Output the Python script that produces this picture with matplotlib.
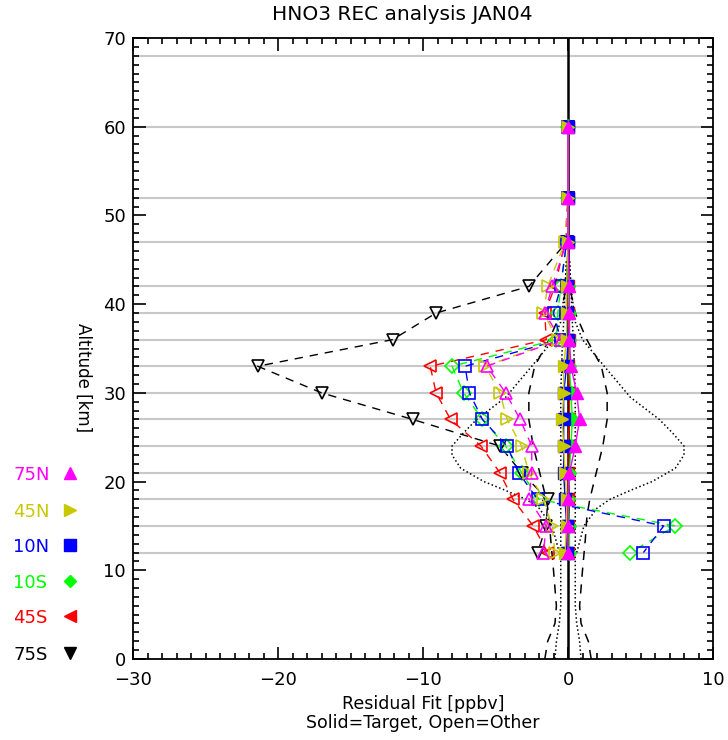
import numpy as np
import matplotlib
matplotlib.use("Agg")
import matplotlib.pyplot as plt
from matplotlib.lines import Line2D

# retrieval levels [km]
levels = [60, 52, 47, 42, 39, 36, 33, 30, 27, 24, 21, 18, 15, 12]
grid_levels = [68, 60, 52, 47, 42, 39, 36, 33, 30, 27, 24, 21, 18, 15, 12]

bands = ["75N", "45N", "10N", "10S", "45S", "75S"]
colors = ["#ff00ff", "#c8c800", "#0000ff", "#00ff00", "#ff0000", "#000000"]
marks = ["^", ">", "s", "D", "<", "v"]

# residuals for the target band (solid symbols)
target = {
    "75N": [0.0, 0.0, 0.0, 0.1, 0.1, 0.1, 0.2, 0.6, 0.8, 0.5, 0.1, 0.0, 0.0, 0.0],
    "45N": [0.0, 0.0, 0.0, -0.1, -0.1, -0.1, -0.3, -0.3, -0.4, -0.3, -0.2, -0.1, -0.1, -0.2],
    "10N": [0.0, 0.0, 0.0, -0.1, -0.1, 0.0, -0.1, -0.3, -0.3, -0.3, -0.3, -0.2, -0.1, -0.1],
    "10S": [0.0, 0.0, 0.0, 0.0, 0.1, 0.1, 0.1, 0.2, 0.3, 0.2, 0.1, 0.0, 0.1, 0.1],
    "45S": [0.0, 0.0, 0.0, 0.0, 0.0, 0.1, 0.0, 0.1, 0.1, 0.0, 0.0, 0.0, 0.0, 0.0],
    "75S": [0.0, 0.0, 0.0, 0.0, 0.0, 0.0, 0.0, 0.0, 0.0, 0.0, 0.0, 0.0, 0.0, 0.0],
}

# residuals for the other bands (open symbols)
other = {
    "75N": [0.0, 0.0, -0.1, -1.1, -1.6, -0.5, -5.6, -4.3, -3.3, -2.5, -2.5, -2.7, -1.5, -1.7],
    "45N": [0.0, 0.0, -0.2, -1.4, -1.7, -0.7, -5.7, -4.7, -4.2, -3.2, -2.7, -1.7, -1.1, -0.9],
    "10N": [0.0, 0.0, -0.1, -0.5, -1.0, -0.5, -7.1, -6.8, -5.9, -4.2, -3.4, -2.1, 6.6, 5.2],
    "10S": [0.0, 0.0, -0.1, -0.5, -0.7, -0.8, -8.0, -7.2, -5.9, -4.3, -3.2, -2.0, 7.4, 4.3],
    "45S": [0.0, 0.0, -0.2, -0.9, -1.6, -1.5, -9.5, -9.1, -8.1, -6.0, -4.7, -3.8, -2.4, -1.4],
    "75S": [0.0, 0.0, -0.1, -2.7, -9.1, -12.1, -21.4, -17.0, -10.7, -4.7, -3.2, -1.4, -1.5, -2.1],
}

# error envelopes, drawn as +/- profiles
wide_alt = [12, 15, 17, 18, 19, 20, 21.5, 23, 24, 25.5, 27, 29.5, 33, 36, 38, 42, 45]
wide_err = [0.6, 1.1, 2.0, 2.9, 4.3, 5.8, 7.4, 8.0, 8.0, 7.2, 6.3, 4.3, 2.5, 1.0, 0.5, 0.2, 0.1]
narrow_alt = [0, 2, 4, 6, 8, 10, 15, 20, 25, 30, 35, 38, 42, 45]
narrow_err = [0.9, 0.8, 0.6, 0.5, 0.5, 0.5, 0.5, 0.5, 0.5, 0.5, 0.4, 0.3, 0.2, 0.1]
dash_alt = [0, 2, 4, 6, 10, 13.6, 16, 18, 20, 22, 24, 27, 30, 33, 36, 39, 42]
dash_err = [1.6, 1.4, 0.9, 0.8, 1.0, 1.2, 1.3, 1.5, 1.8, 2.1, 2.4, 2.7, 2.7, 2.3, 1.3, 0.5, 0.1]

fig = plt.figure(figsize=(7.28, 7.40), dpi=100)
ax = fig.add_axes([0.1827, 0.1095, 0.7967, 0.8391])

for g in grid_levels:
    ax.axhline(g, color="#c8c8c8", lw=1.5, zorder=0)

for alt, err, ls in [(wide_alt, wide_err, ":"), (narrow_alt, narrow_err, ":"),
                     (dash_alt, dash_err, (0, (6, 5)))]:
    e = np.array(err)
    ax.plot(e, alt, color="black", ls=ls, lw=1.1, zorder=1)
    ax.plot(-e, alt, color="black", ls=ls, lw=1.1, zorder=1)

ax.plot([0, 0], [0, 70], color="black", lw=1.8, zorder=2)

# open symbols first, then the solid ones on top
for b, c, m in reversed(list(zip(bands, colors, marks))):
    ax.plot(other[b], levels, color=c, ls=(0, (6, 5)), lw=1.0, marker=m,
            ms=9 if m != "D" else 7, mfc="none", mec=c, mew=1.2, zorder=3)
for b, c, m in reversed(list(zip(bands, colors, marks))):
    ax.plot(target[b], levels, color=c, ls="-", lw=1.0, marker=m,
            ms=9 if m != "D" else 7, mfc=c, mec=c, zorder=4)

ax.set_xlim(-30, 10)
ax.set_ylim(0, 70)
ax.set_xticks([-30, -20, -10, 0, 10])
ax.set_xticks(np.arange(-30, 11, 1), minor=True)
ax.set_yticks(np.arange(0, 71, 10))
ax.set_yticks(np.arange(0, 71, 1), minor=True)
ax.set_xticklabels(["\u221230", "\u221220", "\u221210", "0", "10"])
ax.tick_params(which="both", direction="in", top=True, right=True,
               labelsize=13, width=1.2)
ax.tick_params(axis="y", pad=5)
ax.tick_params(axis="x", pad=9)
ax.tick_params(which="major", length=9)
ax.tick_params(which="minor", length=4.5)
for s in ax.spines.values():
    s.set_linewidth(1.3)

fig.text(0.552, 0.981, "HNO3 REC analysis JAN04", fontsize=14.5,
         ha="center", va="center")
ax.set_xlabel("Residual Fit [ppbv]\nSolid=Target, Open=Other", fontsize=12.5,
              labelpad=4, linespacing=1.05)
ax.set_ylabel("Altitude [km]", fontsize=12, rotation=270, va="center")
ax.yaxis.set_label_coords(-0.085, 0.454)

# band key on the left margin
key_y = [0.358, 0.308, 0.261, 0.212, 0.165, 0.115]
for b, c, m, y in zip(bands, colors, marks, key_y):
    fig.text(0.018, y, b, color=c, fontsize=13, va="center", ha="left")
    fig.add_artist(Line2D([0.096], [y + 0.003], marker=m, color=c, ms=8 if m != "D" else 6,
                          ls="none", transform=fig.transFigure))

fig.savefig("out.png", dpi=100)
